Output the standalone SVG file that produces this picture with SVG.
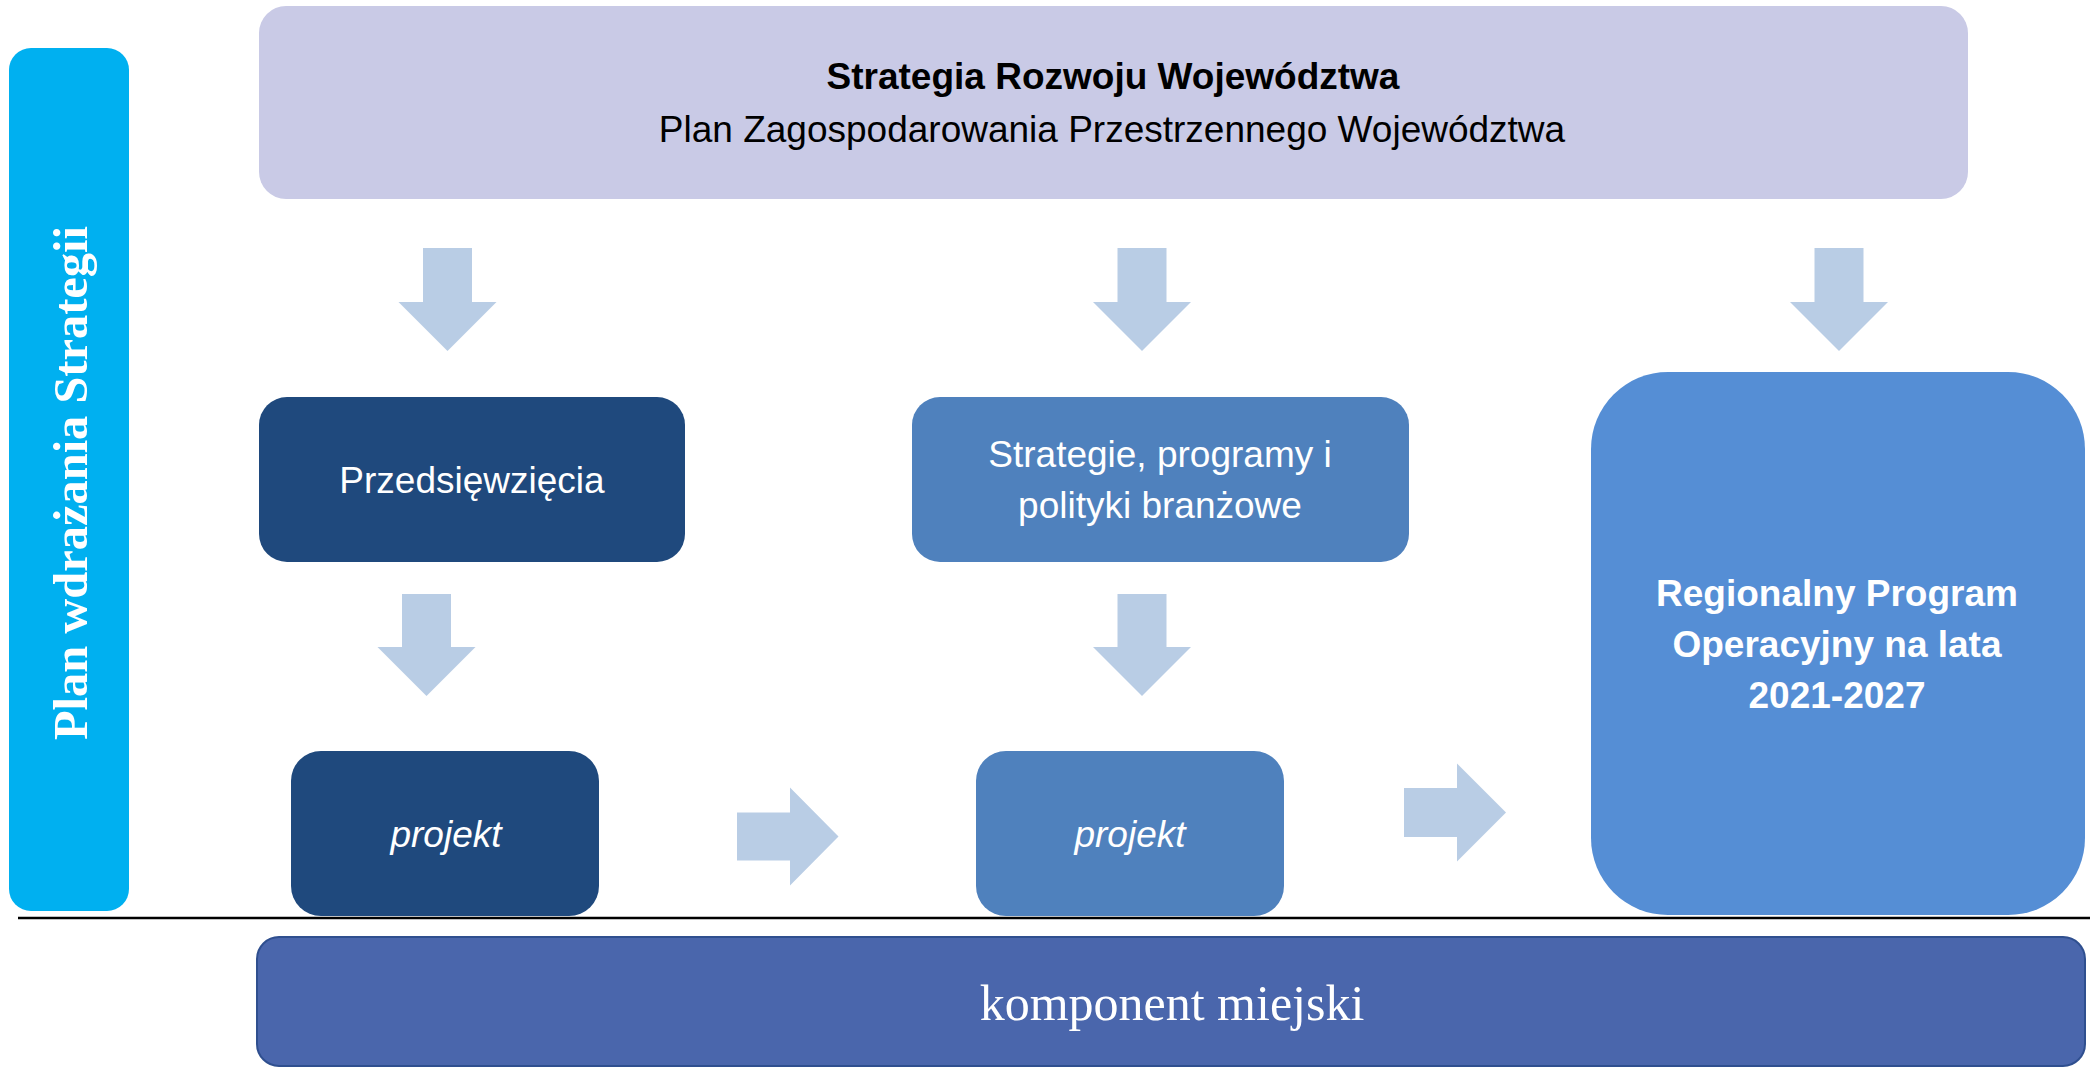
<svg xmlns="http://www.w3.org/2000/svg" width="2090" height="1068" viewBox="0 0 2090 1068">
<style>
.sans{font-family:"Liberation Sans",Arial,sans-serif;font-size:37px;text-anchor:middle}
.b{font-weight:bold}
.w{fill:#FFFFFF}
.k{fill:#000000}
.arrow{fill:#B9CDE5}
.serif{font-family:"Liberation Serif","Times New Roman",serif;text-anchor:middle;fill:#FFFFFF}
</style>
<rect x="0" y="0" width="2090" height="1068" fill="#FFFFFF"/>
<g id="side-bar">
<rect x="9" y="48" width="120" height="863" rx="22" fill="#00B0F0"/>
<text class="serif" font-weight="bold" font-size="48" transform="translate(87,483) rotate(-90)" textLength="514" lengthAdjust="spacingAndGlyphs">Plan wdrażania Strategii</text>
</g>
<g id="top-strategy">
<rect x="259" y="6" width="1709" height="193" rx="27" fill="#C9CAE6"/>
<text class="sans b k" x="1113" y="89">Strategia Rozwoju Województwa</text>
<text class="sans k" x="1112" y="142">Plan Zagospodarowania Przestrzennego Województwa</text>
</g>
<g id="przedsiewziecia">
<rect x="259" y="397" width="426" height="165" rx="28" fill="#1F497D"/>
<text class="sans w" x="472" y="493">Przedsięwzięcia</text>
</g>
<g id="strategie-programy">
<rect x="912" y="397" width="497" height="165" rx="28" fill="#4F81BD"/>
<text class="sans w" x="1160" y="467">Strategie, programy i</text>
<text class="sans w" x="1160" y="518">polityki branżowe</text>
</g>
<g id="projekt-1">
<rect x="291" y="751" width="308" height="165" rx="30" fill="#1F497D"/>
<text class="sans w" font-style="italic" x="446" y="847">projekt</text>
</g>
<g id="projekt-2">
<rect x="976" y="751" width="308" height="165" rx="30" fill="#4F81BD"/>
<text class="sans w" font-style="italic" x="1130" y="847">projekt</text>
</g>
<g id="rpo">
<rect x="1591" y="372" width="494" height="543" rx="77" fill="#558ED5"/>
<text class="sans b w" x="1837" y="606">Regionalny Program</text>
<text class="sans b w" x="1837" y="657">Operacyjny na lata</text>
<text class="sans b w" x="1837" y="708">2021-2027</text>
</g>
<g id="divider">
<line x1="18" y1="918" x2="2090" y2="918" stroke="#000000" stroke-width="2.5"/>
</g>
<g id="komponent-miejski">
<rect x="257" y="937" width="1828" height="129" rx="22" fill="#4A66AC" stroke="#2F4F8F" stroke-width="2"/>
<text class="serif" font-size="50" x="1172" y="1020">komponent miejski</text>
</g>
<g id="connectors">
<polygon class="arrow" points="423,248 472,248 472,302 496.5,302 447.5,351 398.5,302 423,302"/>
<polygon class="arrow" points="1117.5,248 1166.5,248 1166.5,302 1191,302 1142,351 1093,302 1117.5,302"/>
<polygon class="arrow" points="1814.5,248 1863.5,248 1863.5,302 1888,302 1839,351 1790,302 1814.5,302"/>
<polygon class="arrow" points="402,594 451,594 451,647 475.5,647 426.5,696 377.5,647 402,647"/>
<polygon class="arrow" points="1117.5,594 1166.5,594 1166.5,647 1191,647 1142,696 1093,647 1117.5,647"/>
<polygon class="arrow" points="737,812.5 790,812.5 790,787.5 838.5,836.5 790,885.5 790,860.5 737,860.5"/>
<polygon class="arrow" points="1404,788 1457,788 1457,763.5 1506,812.5 1457,861.5 1457,837 1404,837"/>
</g>
</svg>
